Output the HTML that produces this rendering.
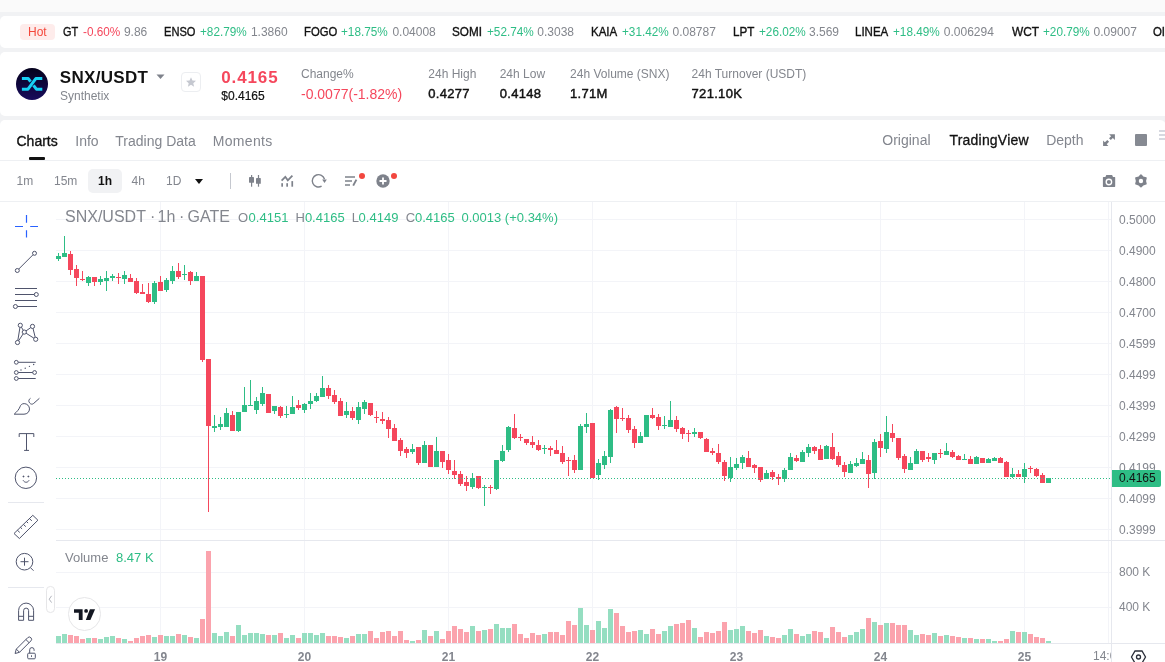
<!DOCTYPE html>
<html><head><meta charset="utf-8"><title>SNX/USDT</title>
<style>
*{margin:0;padding:0;box-sizing:border-box}
html,body{width:1165px;height:662px;overflow:hidden;background:#f1f2f4;font-family:"Liberation Sans",Arial,sans-serif}
.a{position:absolute;white-space:nowrap}
.card{position:absolute;left:0;width:1166px;background:#fff;border-radius:5px}
svg{position:absolute;overflow:visible}
</style></head><body>
<div class="a" style="left:0;top:0;width:1165px;height:12px;background:#fafafa"></div>
<div class="card" style="top:16px;height:32px;width:1200px"></div>
<div class="card" style="top:52px;height:64px;width:1200px"></div>
<div class="card" style="top:120px;height:560px;width:1166px;border-radius:5px 6px 0 0"></div>

<div class="a" style="left:20px;top:24px;width:35px;height:16px;background:#feeceb;border-radius:4px"></div>
<div class="a" style="left:28.0px;top:25.84px;font-size:12px;line-height:12px;color:#f4483c;">Hot</div>
<div class="a" style="left:62.8px;top:25.84px;font-size:12px;line-height:12px;color:#121212;-webkit-text-stroke:0.35px #121212;transform:scaleX(0.91);transform-origin:0 0;">GT</div>
<div class="a" style="left:82.5px;top:25.84px;font-size:12px;line-height:12px;color:#f5475c;transform:scaleX(0.98);transform-origin:0 0;">-0.60%</div>
<div class="a" style="left:123.9px;top:25.84px;font-size:12px;line-height:12px;color:#83868d;">9.86</div>
<div class="a" style="left:163.8px;top:25.84px;font-size:12px;line-height:12px;color:#121212;-webkit-text-stroke:0.35px #121212;transform:scaleX(0.925);transform-origin:0 0;">ENSO</div>
<div class="a" style="left:199.7px;top:25.84px;font-size:12px;line-height:12px;color:#2ebd85;transform:scaleX(0.98);transform-origin:0 0;">+82.79%</div>
<div class="a" style="left:250.9px;top:25.84px;font-size:12px;line-height:12px;color:#83868d;">1.3860</div>
<div class="a" style="left:303.8px;top:25.84px;font-size:12px;line-height:12px;color:#121212;-webkit-text-stroke:0.35px #121212;transform:scaleX(0.94);transform-origin:0 0;">FOGO</div>
<div class="a" style="left:341.4px;top:25.84px;font-size:12px;line-height:12px;color:#2ebd85;transform:scaleX(0.98);transform-origin:0 0;">+18.75%</div>
<div class="a" style="left:392.4px;top:25.84px;font-size:12px;line-height:12px;color:#83868d;">0.04008</div>
<div class="a" style="left:452.2px;top:25.84px;font-size:12px;line-height:12px;color:#121212;-webkit-text-stroke:0.35px #121212;transform:scaleX(0.975);transform-origin:0 0;">SOMI</div>
<div class="a" style="left:486.9px;top:25.84px;font-size:12px;line-height:12px;color:#2ebd85;transform:scaleX(0.98);transform-origin:0 0;">+52.74%</div>
<div class="a" style="left:537.3px;top:25.84px;font-size:12px;line-height:12px;color:#83868d;">0.3038</div>
<div class="a" style="left:590.5px;top:25.84px;font-size:12px;line-height:12px;color:#121212;-webkit-text-stroke:0.35px #121212;transform:scaleX(0.96);transform-origin:0 0;">KAIA</div>
<div class="a" style="left:622.2px;top:25.84px;font-size:12px;line-height:12px;color:#2ebd85;transform:scaleX(0.98);transform-origin:0 0;">+31.42%</div>
<div class="a" style="left:672.5px;top:25.84px;font-size:12px;line-height:12px;color:#83868d;">0.08787</div>
<div class="a" style="left:732.5px;top:25.84px;font-size:12px;line-height:12px;color:#121212;-webkit-text-stroke:0.35px #121212;transform:scaleX(0.97);transform-origin:0 0;">LPT</div>
<div class="a" style="left:758.6px;top:25.84px;font-size:12px;line-height:12px;color:#2ebd85;transform:scaleX(0.98);transform-origin:0 0;">+26.02%</div>
<div class="a" style="left:809.0px;top:25.84px;font-size:12px;line-height:12px;color:#83868d;">3.569</div>
<div class="a" style="left:854.8px;top:25.84px;font-size:12px;line-height:12px;color:#121212;-webkit-text-stroke:0.35px #121212;transform:scaleX(0.96);transform-origin:0 0;">LINEA</div>
<div class="a" style="left:892.8px;top:25.84px;font-size:12px;line-height:12px;color:#2ebd85;transform:scaleX(0.98);transform-origin:0 0;">+18.49%</div>
<div class="a" style="left:943.8px;top:25.84px;font-size:12px;line-height:12px;color:#83868d;">0.006294</div>
<div class="a" style="left:1011.6px;top:25.84px;font-size:12px;line-height:12px;color:#121212;-webkit-text-stroke:0.35px #121212;transform:scaleX(0.99);transform-origin:0 0;">WCT</div>
<div class="a" style="left:1043.3px;top:25.84px;font-size:12px;line-height:12px;color:#2ebd85;transform:scaleX(0.98);transform-origin:0 0;">+20.79%</div>
<div class="a" style="left:1093.6px;top:25.84px;font-size:12px;line-height:12px;color:#83868d;">0.09007</div>
<div class="a" style="left:1153.2px;top:25.84px;font-size:12px;line-height:12px;color:#121212;-webkit-text-stroke:0.35px #121212;transform:scaleX(0.95);transform-origin:0 0;">OI</div>
<svg style="left:16px;top:68px" width="32" height="32" viewBox="0 0 32 32">
<defs><linearGradient id="lg" x1="0" y1="0" x2="0" y2="1"><stop offset="0" stop-color="#04011c"/><stop offset="1" stop-color="#180c5c"/></linearGradient></defs>
<circle cx="16" cy="16" r="16" fill="url(#lg)"/>
<path d="M5.9 10.6H12.3L14.6 13.7M5.9 21.2H12L19.8 10.6H26.3M17.5 17.4L20.4 21.2H26.3" fill="none" stroke="#17d1f5" stroke-width="3" stroke-linejoin="round"/>
</svg>
<div class="a" style="left:59.8px;top:68.61px;font-size:17px;line-height:17px;color:#121212;font-weight:700;letter-spacing:0.3px;">SNX/USDT</div>
<svg style="left:156px;top:74px" width="10" height="6"><path d="M0.5 0.5h8l-4 4.5z" fill="#7e828b"/></svg>
<div class="a" style="left:60.0px;top:89.84px;font-size:12px;line-height:12px;color:#83868d;">Synthetix</div>
<div class="a" style="left:181px;top:72px;width:20px;height:20px;border:1px solid #eceef1;border-radius:4px"></div>
<svg style="left:185px;top:76px" width="12" height="12" viewBox="0 0 24 24"><path d="M12 2.5l2.9 6.6 7.1.6-5.4 4.7 1.6 7-6.2-3.7-6.2 3.7 1.6-7L2 9.7l7.1-.6z" fill="#c5c8d0"/></svg>
<div class="a" style="left:221.2px;top:68.91px;font-size:17px;line-height:17px;color:#f5475c;font-weight:700;letter-spacing:0.9px;">0.4165</div>
<div class="a" style="left:221.3px;top:89.94px;font-size:12px;line-height:12px;color:#121212;-webkit-text-stroke:0.2px #121212;">$0.4165</div>
<div class="a" style="left:301.0px;top:68.04px;font-size:12px;line-height:12px;color:#83868d;">Change%</div>
<div class="a" style="left:301.0px;top:86.75px;font-size:14px;line-height:14px;color:#f5475c;">-0.0077(-1.82%)</div>
<div class="a" style="left:428.3px;top:68.04px;font-size:12px;line-height:12px;color:#83868d;">24h High</div>
<div class="a" style="left:428.3px;top:86.80px;font-size:13px;line-height:13px;color:#121212;-webkit-text-stroke:0.45px #121212;letter-spacing:0.3px;">0.4277</div>
<div class="a" style="left:499.7px;top:68.04px;font-size:12px;line-height:12px;color:#83868d;">24h Low</div>
<div class="a" style="left:499.7px;top:86.80px;font-size:13px;line-height:13px;color:#121212;-webkit-text-stroke:0.45px #121212;letter-spacing:0.3px;">0.4148</div>
<div class="a" style="left:570.1px;top:68.04px;font-size:12px;line-height:12px;color:#83868d;">24h Volume (SNX)</div>
<div class="a" style="left:570.1px;top:86.80px;font-size:13px;line-height:13px;color:#121212;-webkit-text-stroke:0.45px #121212;letter-spacing:0.3px;">1.71M</div>
<div class="a" style="left:691.6px;top:68.04px;font-size:12px;line-height:12px;color:#83868d;">24h Turnover (USDT)</div>
<div class="a" style="left:691.6px;top:86.80px;font-size:13px;line-height:13px;color:#121212;-webkit-text-stroke:0.45px #121212;letter-spacing:0.3px;">721.10K</div>
<div class="a" style="left:16.5px;top:133.95px;font-size:14px;line-height:14px;color:#121212;-webkit-text-stroke:0.35px #121212;">Charts</div>
<div class="a" style="left:75.3px;top:133.95px;font-size:14px;line-height:14px;color:#83868e;">Info</div>
<div class="a" style="left:115.3px;top:133.95px;font-size:14px;line-height:14px;color:#83868e;">Trading Data</div>
<div class="a" style="left:212.8px;top:133.95px;font-size:14px;line-height:14px;color:#83868e;letter-spacing:0.3px;">Moments</div>
<div class="a" style="left:29px;top:157px;width:16px;height:3px;background:#121212;border-radius:1px"></div>
<div class="a" style="left:882.3px;top:133.25px;font-size:14px;line-height:14px;color:#83868e;">Original</div>
<div class="a" style="left:949.5px;top:133.25px;font-size:14px;line-height:14px;color:#121212;-webkit-text-stroke:0.3px #121212;letter-spacing:0.2px;">TradingView</div>
<div class="a" style="left:1046.2px;top:133.25px;font-size:14px;line-height:14px;color:#83868e;">Depth</div>
<svg style="left:1098px;top:128px" width="24" height="24" viewBox="0 0 24 24">
<path d="M11.1 6.2H16.9V12zM5.1 12.6V17.9H10.4z" fill="#7e828b"/>
<path d="M15 8.1L11.9 11.2M7 16L10.2 12.8" stroke="#7e828b" stroke-width="2.5"/>
</svg>
<div class="a" style="left:1135px;top:134px;width:12px;height:12px;background:#868a92;border-radius:1px"></div>
<svg style="left:1159px;top:129px" width="10" height="12"><path d="M0 2h10M0 6h10M0 10h10" stroke="#c9ccd6" stroke-width="1.6"/></svg>
<div class="a" style="left:0;top:160px;width:1165px;height:1px;background:#eef0f3"></div>
<div class="a" style="left:88px;top:169px;width:34px;height:24px;background:#f1f2f4;border-radius:5px"></div>
<div class="a" style="left:16.5px;top:175.04px;font-size:12px;line-height:12px;color:#83868e;">1m</div>
<div class="a" style="left:54.0px;top:175.04px;font-size:12px;line-height:12px;color:#83868e;">15m</div>
<div class="a" style="left:98.0px;top:175.04px;font-size:12px;line-height:12px;color:#121212;font-weight:700;">1h</div>
<div class="a" style="left:131.5px;top:175.04px;font-size:12px;line-height:12px;color:#83868e;">4h</div>
<div class="a" style="left:166.0px;top:175.04px;font-size:12px;line-height:12px;color:#83868e;">1D</div>
<svg style="left:195px;top:179px" width="8" height="5"><path d="M0 0h8l-4 5z" fill="#121212"/></svg>
<div class="a" style="left:230px;top:173px;width:1px;height:16px;background:#c5c8cf"></div>
<svg style="left:244px;top:172px" width="20" height="18" viewBox="0 0 20 18" fill="#7e828b">
<rect x="7" y="3" width="1.2" height="11.7"/><rect x="5" y="5" width="5" height="5.7" rx="0.4"/>
<rect x="13.9" y="3" width="1.2" height="11.7"/><rect x="12" y="6" width="4.8" height="5.8" rx="0.4"/>
</svg>
<svg style="left:278px;top:172px" width="18" height="18" viewBox="0 0 18 18">
<path d="M3.6 8.6L7.3 4.8 9.8 8.3 14.4 3.7" fill="none" stroke="#7e828b" stroke-width="1.8"/>
<rect x="3.3" y="11.2" width="1.7" height="3.5" fill="#7e828b"/><rect x="8.3" y="11.2" width="1.7" height="3.5" fill="#7e828b"/><rect x="13.4" y="9.1" width="1.7" height="5.6" fill="#7e828b"/>
</svg>
<svg style="left:310px;top:170px" width="20" height="20" viewBox="0 0 20 20">
<path d="M11.6 16.2A6.2 6.2 0 1 1 14.5 9.2" fill="none" stroke="#7e828b" stroke-width="1.4"/>
<path d="M12.2 9.4h4.6L14.5 13z" fill="#7e828b"/>
</svg>
<svg style="left:344px;top:175.4px" width="14" height="12" viewBox="0 0 14 12">
<path d="M1 2h10M1 6h7M1 10h5" stroke="#7e828b" stroke-width="1.6"/>
<path d="M9.2 10.6l3.2-6" stroke="#7e828b" stroke-width="1.9"/>
</svg>
<div class="a" style="left:359px;top:172.5px;width:6px;height:6px;border-radius:50%;background:#f2473f"></div>
<svg style="left:376px;top:173.8px" width="14" height="14" viewBox="0 0 14 14">
<circle cx="7" cy="7" r="6.7" fill="#7e828b"/><path d="M7 3.5v7M3.5 7h7" stroke="#fff" stroke-width="1.8"/>
</svg>
<div class="a" style="left:391px;top:173px;width:6px;height:6px;border-radius:50%;background:#f2473f"></div>
<svg style="left:1102px;top:174px" width="14" height="14" viewBox="0 0 14 14">
<path d="M4.3 1.1h5.8l.9 1.8h1.6c.4 0 .6.2.6.6v8.8c0 .4-.2.6-.6.6H1.5c-.4 0-.6-.2-.6-.6V3.5c0-.4.2-.6.6-.6h1.9z" fill="#7e828b"/>
<circle cx="6.9" cy="8" r="3.4" fill="#fff"/><circle cx="6.9" cy="8" r="2.05" fill="#7e828b"/>
</svg>
<svg style="left:1134px;top:174px" width="14" height="14" viewBox="0 0 14 14">
<path d="M6.95 1.15 L9.10 3.23 L11.97 4.05 L11.25 6.95 L11.97 9.85 L9.10 10.67 L6.95 12.75 L4.80 10.67 L1.93 9.85 L2.65 6.95 L1.93 4.05 L4.80 3.23Z" fill="#7e828b" stroke="#7e828b" stroke-width="1.6" stroke-linejoin="round"/>
<circle cx="6.95" cy="6.95" r="2.2" fill="#fff"/>
</svg>
<div class="a" style="left:0;top:201px;width:1165px;height:1px;background:#eef0f3"></div>
<svg style="left:0;top:0" width="1165" height="662" shape-rendering="crispEdges">
<rect x="56" y="219" width="1055" height="1" fill="#f3f4f8"/>
<rect x="56" y="250" width="1055" height="1" fill="#f3f4f8"/>
<rect x="56" y="281" width="1055" height="1" fill="#f3f4f8"/>
<rect x="56" y="312" width="1055" height="1" fill="#f3f4f8"/>
<rect x="56" y="343" width="1055" height="1" fill="#f3f4f8"/>
<rect x="56" y="374" width="1055" height="1" fill="#f3f4f8"/>
<rect x="56" y="405" width="1055" height="1" fill="#f3f4f8"/>
<rect x="56" y="436" width="1055" height="1" fill="#f3f4f8"/>
<rect x="56" y="467" width="1055" height="1" fill="#f3f4f8"/>
<rect x="56" y="498" width="1055" height="1" fill="#f3f4f8"/>
<rect x="56" y="529" width="1055" height="1" fill="#f3f4f8"/>
<rect x="56" y="572" width="1055" height="1" fill="#f3f4f8"/>
<rect x="56" y="607" width="1055" height="1" fill="#f3f4f8"/>
<rect x="160" y="202" width="1" height="441" fill="#f3f4f8"/>
<rect x="304" y="202" width="1" height="441" fill="#f3f4f8"/>
<rect x="448" y="202" width="1" height="441" fill="#f3f4f8"/>
<rect x="592" y="202" width="1" height="441" fill="#f3f4f8"/>
<rect x="736" y="202" width="1" height="441" fill="#f3f4f8"/>
<rect x="880" y="202" width="1" height="441" fill="#f3f4f8"/>
<rect x="1024" y="202" width="1" height="441" fill="#f3f4f8"/>
<rect x="1108" y="202" width="1" height="441" fill="#f3f4f8"/>
<rect x="56" y="540" width="1109" height="1" fill="#e6e8ee"/>
<rect x="1111" y="202" width="1" height="460" fill="#e6e8ee"/>
<rect x="56" y="643" width="1109" height="1" fill="#e6e8ee"/>
<rect x="56" y="636" width="5" height="7" fill="#95dec1"/>
<rect x="62" y="634" width="5" height="9" fill="#95dec1"/>
<rect x="68" y="635" width="5" height="8" fill="#fba3ad"/>
<rect x="74" y="636" width="5" height="7" fill="#fba3ad"/>
<rect x="80" y="639" width="5" height="4" fill="#fba3ad"/>
<rect x="86" y="638" width="5" height="5" fill="#95dec1"/>
<rect x="92" y="638" width="5" height="5" fill="#fba3ad"/>
<rect x="98" y="639" width="5" height="4" fill="#95dec1"/>
<rect x="104" y="637" width="5" height="6" fill="#95dec1"/>
<rect x="110" y="636" width="5" height="7" fill="#95dec1"/>
<rect x="116" y="638" width="5" height="5" fill="#fba3ad"/>
<rect x="122" y="639" width="5" height="4" fill="#95dec1"/>
<rect x="128" y="641" width="5" height="2" fill="#fba3ad"/>
<rect x="134" y="638" width="5" height="5" fill="#fba3ad"/>
<rect x="140" y="636" width="5" height="7" fill="#fba3ad"/>
<rect x="146" y="635" width="5" height="8" fill="#fba3ad"/>
<rect x="152" y="637" width="5" height="6" fill="#95dec1"/>
<rect x="158" y="635" width="5" height="8" fill="#fba3ad"/>
<rect x="164" y="636" width="5" height="7" fill="#95dec1"/>
<rect x="170" y="636" width="5" height="7" fill="#95dec1"/>
<rect x="176" y="634" width="5" height="9" fill="#fba3ad"/>
<rect x="182" y="635" width="5" height="8" fill="#95dec1"/>
<rect x="188" y="637" width="5" height="6" fill="#fba3ad"/>
<rect x="194" y="638" width="5" height="5" fill="#95dec1"/>
<rect x="200" y="619" width="5" height="24" fill="#fba3ad"/>
<rect x="206" y="551" width="5" height="92" fill="#fba3ad"/>
<rect x="212" y="633" width="5" height="10" fill="#95dec1"/>
<rect x="218" y="636" width="5" height="7" fill="#95dec1"/>
<rect x="224" y="632" width="5" height="11" fill="#95dec1"/>
<rect x="230" y="636" width="5" height="7" fill="#fba3ad"/>
<rect x="236" y="625" width="5" height="18" fill="#95dec1"/>
<rect x="242" y="635" width="5" height="8" fill="#95dec1"/>
<rect x="248" y="633" width="5" height="10" fill="#95dec1"/>
<rect x="254" y="633" width="5" height="10" fill="#95dec1"/>
<rect x="260" y="634" width="5" height="9" fill="#95dec1"/>
<rect x="266" y="635" width="5" height="8" fill="#fba3ad"/>
<rect x="272" y="635" width="5" height="8" fill="#95dec1"/>
<rect x="278" y="633" width="5" height="10" fill="#fba3ad"/>
<rect x="284" y="638" width="5" height="5" fill="#95dec1"/>
<rect x="290" y="635" width="5" height="8" fill="#95dec1"/>
<rect x="296" y="638" width="5" height="5" fill="#fba3ad"/>
<rect x="302" y="633" width="5" height="10" fill="#95dec1"/>
<rect x="308" y="633" width="5" height="10" fill="#95dec1"/>
<rect x="314" y="635" width="5" height="8" fill="#95dec1"/>
<rect x="320" y="633" width="5" height="10" fill="#95dec1"/>
<rect x="326" y="636" width="5" height="7" fill="#fba3ad"/>
<rect x="332" y="636" width="5" height="7" fill="#fba3ad"/>
<rect x="338" y="637" width="5" height="6" fill="#fba3ad"/>
<rect x="344" y="638" width="5" height="5" fill="#95dec1"/>
<rect x="350" y="636" width="5" height="7" fill="#fba3ad"/>
<rect x="356" y="634" width="5" height="9" fill="#95dec1"/>
<rect x="362" y="634" width="5" height="9" fill="#95dec1"/>
<rect x="368" y="631" width="5" height="12" fill="#fba3ad"/>
<rect x="374" y="638" width="5" height="5" fill="#fba3ad"/>
<rect x="380" y="632" width="5" height="11" fill="#fba3ad"/>
<rect x="386" y="631" width="5" height="12" fill="#fba3ad"/>
<rect x="392" y="636" width="5" height="7" fill="#fba3ad"/>
<rect x="398" y="631" width="5" height="12" fill="#fba3ad"/>
<rect x="404" y="640" width="5" height="3" fill="#fba3ad"/>
<rect x="410" y="641" width="5" height="2" fill="#95dec1"/>
<rect x="416" y="640" width="5" height="3" fill="#fba3ad"/>
<rect x="422" y="630" width="5" height="13" fill="#95dec1"/>
<rect x="428" y="636" width="5" height="7" fill="#fba3ad"/>
<rect x="434" y="631" width="5" height="12" fill="#95dec1"/>
<rect x="440" y="639" width="5" height="4" fill="#fba3ad"/>
<rect x="446" y="631" width="5" height="12" fill="#fba3ad"/>
<rect x="452" y="626" width="5" height="17" fill="#fba3ad"/>
<rect x="458" y="629" width="5" height="14" fill="#fba3ad"/>
<rect x="464" y="632" width="5" height="11" fill="#fba3ad"/>
<rect x="470" y="626" width="5" height="17" fill="#95dec1"/>
<rect x="476" y="631" width="5" height="12" fill="#fba3ad"/>
<rect x="482" y="630" width="5" height="13" fill="#95dec1"/>
<rect x="488" y="629" width="5" height="14" fill="#fba3ad"/>
<rect x="494" y="624" width="5" height="19" fill="#95dec1"/>
<rect x="500" y="628" width="5" height="15" fill="#95dec1"/>
<rect x="506" y="628" width="5" height="15" fill="#95dec1"/>
<rect x="512" y="624" width="5" height="19" fill="#fba3ad"/>
<rect x="518" y="634" width="5" height="9" fill="#fba3ad"/>
<rect x="524" y="638" width="5" height="5" fill="#fba3ad"/>
<rect x="530" y="633" width="5" height="10" fill="#fba3ad"/>
<rect x="536" y="635" width="5" height="8" fill="#fba3ad"/>
<rect x="542" y="634" width="5" height="9" fill="#95dec1"/>
<rect x="548" y="632" width="5" height="11" fill="#fba3ad"/>
<rect x="554" y="632" width="5" height="11" fill="#fba3ad"/>
<rect x="560" y="635" width="5" height="8" fill="#fba3ad"/>
<rect x="566" y="621" width="5" height="22" fill="#fba3ad"/>
<rect x="572" y="625" width="5" height="18" fill="#fba3ad"/>
<rect x="578" y="608" width="5" height="35" fill="#95dec1"/>
<rect x="584" y="625" width="5" height="18" fill="#95dec1"/>
<rect x="590" y="630" width="5" height="13" fill="#fba3ad"/>
<rect x="596" y="621" width="5" height="22" fill="#95dec1"/>
<rect x="602" y="628" width="5" height="15" fill="#95dec1"/>
<rect x="608" y="609" width="5" height="34" fill="#95dec1"/>
<rect x="614" y="613" width="5" height="30" fill="#fba3ad"/>
<rect x="620" y="626" width="5" height="17" fill="#fba3ad"/>
<rect x="626" y="632" width="5" height="11" fill="#fba3ad"/>
<rect x="632" y="631" width="5" height="12" fill="#fba3ad"/>
<rect x="638" y="630" width="5" height="13" fill="#95dec1"/>
<rect x="644" y="634" width="5" height="9" fill="#95dec1"/>
<rect x="650" y="629" width="5" height="14" fill="#fba3ad"/>
<rect x="656" y="634" width="5" height="9" fill="#fba3ad"/>
<rect x="662" y="631" width="5" height="12" fill="#95dec1"/>
<rect x="668" y="626" width="5" height="17" fill="#95dec1"/>
<rect x="674" y="624" width="5" height="19" fill="#fba3ad"/>
<rect x="680" y="623" width="5" height="20" fill="#fba3ad"/>
<rect x="686" y="620" width="5" height="23" fill="#fba3ad"/>
<rect x="692" y="628" width="5" height="15" fill="#95dec1"/>
<rect x="698" y="637" width="5" height="6" fill="#fba3ad"/>
<rect x="704" y="632" width="5" height="11" fill="#fba3ad"/>
<rect x="710" y="633" width="5" height="10" fill="#fba3ad"/>
<rect x="716" y="631" width="5" height="12" fill="#fba3ad"/>
<rect x="722" y="622" width="5" height="21" fill="#fba3ad"/>
<rect x="728" y="630" width="5" height="13" fill="#95dec1"/>
<rect x="734" y="629" width="5" height="14" fill="#95dec1"/>
<rect x="740" y="626" width="5" height="17" fill="#95dec1"/>
<rect x="746" y="631" width="5" height="12" fill="#fba3ad"/>
<rect x="752" y="633" width="5" height="10" fill="#fba3ad"/>
<rect x="758" y="630" width="5" height="13" fill="#fba3ad"/>
<rect x="764" y="636" width="5" height="7" fill="#95dec1"/>
<rect x="770" y="637" width="5" height="6" fill="#fba3ad"/>
<rect x="776" y="638" width="5" height="5" fill="#fba3ad"/>
<rect x="782" y="635" width="5" height="8" fill="#95dec1"/>
<rect x="788" y="629" width="5" height="14" fill="#95dec1"/>
<rect x="794" y="634" width="5" height="9" fill="#fba3ad"/>
<rect x="800" y="636" width="5" height="7" fill="#95dec1"/>
<rect x="806" y="634" width="5" height="9" fill="#95dec1"/>
<rect x="812" y="631" width="5" height="12" fill="#fba3ad"/>
<rect x="818" y="632" width="5" height="11" fill="#fba3ad"/>
<rect x="824" y="638" width="5" height="5" fill="#95dec1"/>
<rect x="830" y="627" width="5" height="16" fill="#fba3ad"/>
<rect x="836" y="632" width="5" height="11" fill="#fba3ad"/>
<rect x="842" y="637" width="5" height="6" fill="#fba3ad"/>
<rect x="848" y="635" width="5" height="8" fill="#95dec1"/>
<rect x="854" y="632" width="5" height="11" fill="#95dec1"/>
<rect x="860" y="629" width="5" height="14" fill="#95dec1"/>
<rect x="866" y="618" width="5" height="25" fill="#fba3ad"/>
<rect x="872" y="622" width="5" height="21" fill="#95dec1"/>
<rect x="878" y="625" width="5" height="18" fill="#fba3ad"/>
<rect x="884" y="623" width="5" height="20" fill="#95dec1"/>
<rect x="890" y="623" width="5" height="20" fill="#fba3ad"/>
<rect x="896" y="625" width="5" height="18" fill="#fba3ad"/>
<rect x="902" y="625" width="5" height="18" fill="#fba3ad"/>
<rect x="908" y="630" width="5" height="13" fill="#95dec1"/>
<rect x="914" y="635" width="5" height="8" fill="#95dec1"/>
<rect x="920" y="634" width="5" height="9" fill="#fba3ad"/>
<rect x="926" y="635" width="5" height="8" fill="#fba3ad"/>
<rect x="932" y="633" width="5" height="10" fill="#95dec1"/>
<rect x="938" y="636" width="5" height="7" fill="#fba3ad"/>
<rect x="944" y="635" width="5" height="8" fill="#95dec1"/>
<rect x="950" y="636" width="5" height="7" fill="#fba3ad"/>
<rect x="956" y="637" width="5" height="6" fill="#fba3ad"/>
<rect x="962" y="638" width="5" height="5" fill="#95dec1"/>
<rect x="968" y="638" width="5" height="5" fill="#fba3ad"/>
<rect x="974" y="639" width="5" height="4" fill="#95dec1"/>
<rect x="980" y="639" width="5" height="4" fill="#fba3ad"/>
<rect x="986" y="639" width="5" height="4" fill="#95dec1"/>
<rect x="992" y="641" width="5" height="2" fill="#95dec1"/>
<rect x="998" y="641" width="5" height="2" fill="#fba3ad"/>
<rect x="1004" y="639" width="5" height="4" fill="#fba3ad"/>
<rect x="1010" y="631" width="5" height="12" fill="#95dec1"/>
<rect x="1016" y="632" width="5" height="11" fill="#fba3ad"/>
<rect x="1022" y="632" width="5" height="11" fill="#95dec1"/>
<rect x="1028" y="634" width="5" height="9" fill="#fba3ad"/>
<rect x="1034" y="637" width="5" height="6" fill="#fba3ad"/>
<rect x="1040" y="638" width="5" height="5" fill="#fba3ad"/>
<rect x="1046" y="641" width="5" height="2" fill="#95dec1"/>
<rect x="58" y="253" width="1" height="8" fill="#2ebd85"/>
<rect x="56" y="256" width="5" height="3" fill="#2ebd85"/>
<rect x="64" y="236" width="1" height="21" fill="#2ebd85"/>
<rect x="62" y="253" width="5" height="4" fill="#2ebd85"/>
<rect x="70" y="251" width="1" height="24" fill="#f5475c"/>
<rect x="68" y="254" width="5" height="16" fill="#f5475c"/>
<rect x="76" y="265" width="1" height="21" fill="#f5475c"/>
<rect x="74" y="269" width="5" height="9" fill="#f5475c"/>
<rect x="82" y="271" width="1" height="10" fill="#f5475c"/>
<rect x="80" y="279" width="5" height="1" fill="#f5475c"/>
<rect x="88" y="276" width="1" height="10" fill="#2ebd85"/>
<rect x="86" y="277" width="5" height="6" fill="#2ebd85"/>
<rect x="94" y="277" width="1" height="9" fill="#f5475c"/>
<rect x="92" y="277" width="5" height="5" fill="#f5475c"/>
<rect x="100" y="276" width="1" height="9" fill="#2ebd85"/>
<rect x="98" y="279" width="5" height="3" fill="#2ebd85"/>
<rect x="106" y="271" width="1" height="20" fill="#2ebd85"/>
<rect x="104" y="278" width="5" height="3" fill="#2ebd85"/>
<rect x="112" y="274" width="1" height="7" fill="#2ebd85"/>
<rect x="110" y="276" width="5" height="2" fill="#2ebd85"/>
<rect x="118" y="273" width="1" height="11" fill="#f5475c"/>
<rect x="116" y="277" width="5" height="1" fill="#f5475c"/>
<rect x="124" y="271" width="1" height="13" fill="#2ebd85"/>
<rect x="122" y="275" width="5" height="4" fill="#2ebd85"/>
<rect x="130" y="274" width="1" height="8" fill="#f5475c"/>
<rect x="128" y="278" width="5" height="4" fill="#f5475c"/>
<rect x="136" y="278" width="1" height="16" fill="#f5475c"/>
<rect x="134" y="281" width="5" height="12" fill="#f5475c"/>
<rect x="142" y="284" width="1" height="10" fill="#f5475c"/>
<rect x="140" y="292" width="5" height="2" fill="#f5475c"/>
<rect x="148" y="283" width="1" height="20" fill="#f5475c"/>
<rect x="146" y="294" width="5" height="8" fill="#f5475c"/>
<rect x="154" y="281" width="1" height="23" fill="#2ebd85"/>
<rect x="152" y="283" width="5" height="19" fill="#2ebd85"/>
<rect x="160" y="276" width="1" height="15" fill="#f5475c"/>
<rect x="158" y="282" width="5" height="9" fill="#f5475c"/>
<rect x="166" y="278" width="1" height="14" fill="#2ebd85"/>
<rect x="164" y="280" width="5" height="10" fill="#2ebd85"/>
<rect x="172" y="266" width="1" height="18" fill="#2ebd85"/>
<rect x="170" y="271" width="5" height="10" fill="#2ebd85"/>
<rect x="178" y="263" width="1" height="16" fill="#f5475c"/>
<rect x="176" y="271" width="5" height="6" fill="#f5475c"/>
<rect x="184" y="265" width="1" height="15" fill="#2ebd85"/>
<rect x="182" y="274" width="5" height="1" fill="#2ebd85"/>
<rect x="190" y="271" width="1" height="14" fill="#f5475c"/>
<rect x="188" y="272" width="5" height="9" fill="#f5475c"/>
<rect x="196" y="272" width="1" height="9" fill="#2ebd85"/>
<rect x="194" y="276" width="5" height="5" fill="#2ebd85"/>
<rect x="202" y="276" width="1" height="86" fill="#f5475c"/>
<rect x="200" y="276" width="5" height="84" fill="#f5475c"/>
<rect x="208" y="359" width="1" height="153" fill="#f5475c"/>
<rect x="206" y="359" width="5" height="67" fill="#f5475c"/>
<rect x="214" y="415" width="1" height="17" fill="#2ebd85"/>
<rect x="212" y="426" width="5" height="2" fill="#2ebd85"/>
<rect x="220" y="417" width="1" height="13" fill="#2ebd85"/>
<rect x="218" y="424" width="5" height="3" fill="#2ebd85"/>
<rect x="226" y="408" width="1" height="19" fill="#2ebd85"/>
<rect x="224" y="413" width="5" height="14" fill="#2ebd85"/>
<rect x="232" y="411" width="1" height="20" fill="#f5475c"/>
<rect x="230" y="415" width="5" height="16" fill="#f5475c"/>
<rect x="238" y="412" width="1" height="20" fill="#2ebd85"/>
<rect x="236" y="412" width="5" height="19" fill="#2ebd85"/>
<rect x="244" y="387" width="1" height="25" fill="#2ebd85"/>
<rect x="242" y="405" width="5" height="7" fill="#2ebd85"/>
<rect x="250" y="380" width="1" height="26" fill="#2ebd85"/>
<rect x="248" y="405" width="5" height="1" fill="#2ebd85"/>
<rect x="256" y="397" width="1" height="17" fill="#2ebd85"/>
<rect x="254" y="401" width="5" height="9" fill="#2ebd85"/>
<rect x="262" y="387" width="1" height="19" fill="#2ebd85"/>
<rect x="260" y="393" width="5" height="11" fill="#2ebd85"/>
<rect x="266" y="394" width="5" height="19" fill="#f5475c"/>
<rect x="274" y="406" width="1" height="8" fill="#2ebd85"/>
<rect x="272" y="406" width="5" height="5" fill="#2ebd85"/>
<rect x="280" y="406" width="1" height="12" fill="#f5475c"/>
<rect x="278" y="407" width="5" height="9" fill="#f5475c"/>
<rect x="286" y="406" width="1" height="12" fill="#2ebd85"/>
<rect x="284" y="414" width="5" height="1" fill="#2ebd85"/>
<rect x="292" y="396" width="1" height="18" fill="#2ebd85"/>
<rect x="290" y="407" width="5" height="7" fill="#2ebd85"/>
<rect x="298" y="400" width="1" height="10" fill="#f5475c"/>
<rect x="296" y="405" width="5" height="3" fill="#f5475c"/>
<rect x="304" y="403" width="1" height="10" fill="#2ebd85"/>
<rect x="302" y="404" width="5" height="6" fill="#2ebd85"/>
<rect x="310" y="393" width="1" height="16" fill="#2ebd85"/>
<rect x="308" y="401" width="5" height="3" fill="#2ebd85"/>
<rect x="316" y="393" width="1" height="9" fill="#2ebd85"/>
<rect x="314" y="396" width="5" height="5" fill="#2ebd85"/>
<rect x="322" y="376" width="1" height="21" fill="#2ebd85"/>
<rect x="320" y="388" width="5" height="9" fill="#2ebd85"/>
<rect x="328" y="385" width="1" height="14" fill="#f5475c"/>
<rect x="326" y="388" width="5" height="8" fill="#f5475c"/>
<rect x="334" y="390" width="1" height="14" fill="#f5475c"/>
<rect x="332" y="395" width="5" height="7" fill="#f5475c"/>
<rect x="340" y="398" width="1" height="18" fill="#f5475c"/>
<rect x="338" y="401" width="5" height="15" fill="#f5475c"/>
<rect x="346" y="402" width="1" height="16" fill="#2ebd85"/>
<rect x="344" y="411" width="5" height="4" fill="#2ebd85"/>
<rect x="352" y="407" width="1" height="13" fill="#f5475c"/>
<rect x="350" y="411" width="5" height="7" fill="#f5475c"/>
<rect x="358" y="402" width="1" height="22" fill="#2ebd85"/>
<rect x="356" y="407" width="5" height="13" fill="#2ebd85"/>
<rect x="364" y="400" width="1" height="14" fill="#2ebd85"/>
<rect x="362" y="402" width="5" height="7" fill="#2ebd85"/>
<rect x="370" y="403" width="1" height="13" fill="#f5475c"/>
<rect x="368" y="403" width="5" height="12" fill="#f5475c"/>
<rect x="376" y="411" width="1" height="12" fill="#f5475c"/>
<rect x="374" y="417" width="5" height="1" fill="#f5475c"/>
<rect x="382" y="412" width="1" height="12" fill="#f5475c"/>
<rect x="380" y="419" width="5" height="2" fill="#f5475c"/>
<rect x="388" y="417" width="1" height="21" fill="#f5475c"/>
<rect x="386" y="420" width="5" height="9" fill="#f5475c"/>
<rect x="394" y="424" width="1" height="17" fill="#f5475c"/>
<rect x="392" y="428" width="5" height="13" fill="#f5475c"/>
<rect x="400" y="438" width="1" height="18" fill="#f5475c"/>
<rect x="398" y="440" width="5" height="11" fill="#f5475c"/>
<rect x="406" y="447" width="1" height="11" fill="#f5475c"/>
<rect x="404" y="449" width="5" height="4" fill="#f5475c"/>
<rect x="412" y="444" width="1" height="10" fill="#2ebd85"/>
<rect x="410" y="449" width="5" height="3" fill="#2ebd85"/>
<rect x="418" y="447" width="1" height="18" fill="#f5475c"/>
<rect x="416" y="447" width="5" height="16" fill="#f5475c"/>
<rect x="424" y="441" width="1" height="22" fill="#2ebd85"/>
<rect x="422" y="445" width="5" height="18" fill="#2ebd85"/>
<rect x="428" y="445" width="5" height="22" fill="#f5475c"/>
<rect x="436" y="437" width="1" height="30" fill="#2ebd85"/>
<rect x="434" y="451" width="5" height="16" fill="#2ebd85"/>
<rect x="442" y="451" width="1" height="17" fill="#f5475c"/>
<rect x="440" y="451" width="5" height="11" fill="#f5475c"/>
<rect x="448" y="454" width="1" height="20" fill="#f5475c"/>
<rect x="446" y="460" width="5" height="10" fill="#f5475c"/>
<rect x="454" y="460" width="1" height="19" fill="#f5475c"/>
<rect x="452" y="471" width="5" height="4" fill="#f5475c"/>
<rect x="460" y="471" width="1" height="15" fill="#f5475c"/>
<rect x="458" y="474" width="5" height="10" fill="#f5475c"/>
<rect x="466" y="476" width="1" height="15" fill="#f5475c"/>
<rect x="464" y="482" width="5" height="4" fill="#f5475c"/>
<rect x="472" y="473" width="1" height="16" fill="#2ebd85"/>
<rect x="470" y="478" width="5" height="9" fill="#2ebd85"/>
<rect x="478" y="476" width="1" height="13" fill="#f5475c"/>
<rect x="476" y="476" width="5" height="12" fill="#f5475c"/>
<rect x="484" y="485" width="1" height="21" fill="#2ebd85"/>
<rect x="482" y="487" width="5" height="1" fill="#2ebd85"/>
<rect x="490" y="485" width="1" height="9" fill="#f5475c"/>
<rect x="488" y="487" width="5" height="1" fill="#f5475c"/>
<rect x="496" y="460" width="1" height="30" fill="#2ebd85"/>
<rect x="494" y="460" width="5" height="29" fill="#2ebd85"/>
<rect x="502" y="445" width="1" height="17" fill="#2ebd85"/>
<rect x="500" y="451" width="5" height="10" fill="#2ebd85"/>
<rect x="508" y="426" width="1" height="26" fill="#2ebd85"/>
<rect x="506" y="427" width="5" height="23" fill="#2ebd85"/>
<rect x="514" y="414" width="1" height="25" fill="#f5475c"/>
<rect x="512" y="428" width="5" height="10" fill="#f5475c"/>
<rect x="520" y="434" width="1" height="7" fill="#f5475c"/>
<rect x="518" y="437" width="5" height="1" fill="#f5475c"/>
<rect x="526" y="439" width="1" height="6" fill="#f5475c"/>
<rect x="524" y="439" width="5" height="4" fill="#f5475c"/>
<rect x="532" y="436" width="1" height="12" fill="#f5475c"/>
<rect x="530" y="442" width="5" height="3" fill="#f5475c"/>
<rect x="538" y="440" width="1" height="11" fill="#f5475c"/>
<rect x="536" y="445" width="5" height="5" fill="#f5475c"/>
<rect x="544" y="445" width="1" height="9" fill="#2ebd85"/>
<rect x="542" y="448" width="5" height="1" fill="#2ebd85"/>
<rect x="550" y="446" width="1" height="10" fill="#f5475c"/>
<rect x="548" y="448" width="5" height="2" fill="#f5475c"/>
<rect x="556" y="440" width="1" height="14" fill="#f5475c"/>
<rect x="554" y="450" width="5" height="4" fill="#f5475c"/>
<rect x="562" y="446" width="1" height="18" fill="#f5475c"/>
<rect x="560" y="453" width="5" height="9" fill="#f5475c"/>
<rect x="568" y="457" width="1" height="19" fill="#f5475c"/>
<rect x="566" y="460" width="5" height="1" fill="#f5475c"/>
<rect x="574" y="455" width="1" height="18" fill="#f5475c"/>
<rect x="572" y="460" width="5" height="10" fill="#f5475c"/>
<rect x="580" y="424" width="1" height="46" fill="#2ebd85"/>
<rect x="578" y="426" width="5" height="44" fill="#2ebd85"/>
<rect x="586" y="413" width="1" height="20" fill="#2ebd85"/>
<rect x="584" y="424" width="5" height="3" fill="#2ebd85"/>
<rect x="590" y="423" width="5" height="55" fill="#f5475c"/>
<rect x="598" y="459" width="1" height="21" fill="#2ebd85"/>
<rect x="596" y="463" width="5" height="12" fill="#2ebd85"/>
<rect x="604" y="451" width="1" height="18" fill="#2ebd85"/>
<rect x="602" y="456" width="5" height="9" fill="#2ebd85"/>
<rect x="610" y="409" width="1" height="54" fill="#2ebd85"/>
<rect x="608" y="410" width="5" height="47" fill="#2ebd85"/>
<rect x="616" y="406" width="1" height="27" fill="#f5475c"/>
<rect x="614" y="407" width="5" height="12" fill="#f5475c"/>
<rect x="622" y="408" width="1" height="13" fill="#f5475c"/>
<rect x="620" y="418" width="5" height="1" fill="#f5475c"/>
<rect x="628" y="415" width="1" height="18" fill="#f5475c"/>
<rect x="626" y="418" width="5" height="12" fill="#f5475c"/>
<rect x="634" y="426" width="1" height="22" fill="#f5475c"/>
<rect x="632" y="429" width="5" height="14" fill="#f5475c"/>
<rect x="640" y="432" width="1" height="11" fill="#2ebd85"/>
<rect x="638" y="436" width="5" height="7" fill="#2ebd85"/>
<rect x="644" y="415" width="5" height="22" fill="#2ebd85"/>
<rect x="652" y="408" width="1" height="11" fill="#f5475c"/>
<rect x="650" y="415" width="5" height="3" fill="#f5475c"/>
<rect x="658" y="414" width="1" height="16" fill="#f5475c"/>
<rect x="656" y="417" width="5" height="9" fill="#f5475c"/>
<rect x="664" y="416" width="1" height="13" fill="#2ebd85"/>
<rect x="662" y="425" width="5" height="1" fill="#2ebd85"/>
<rect x="670" y="401" width="1" height="26" fill="#2ebd85"/>
<rect x="668" y="420" width="5" height="7" fill="#2ebd85"/>
<rect x="676" y="416" width="1" height="16" fill="#f5475c"/>
<rect x="674" y="420" width="5" height="9" fill="#f5475c"/>
<rect x="682" y="427" width="1" height="12" fill="#f5475c"/>
<rect x="680" y="428" width="5" height="6" fill="#f5475c"/>
<rect x="688" y="430" width="1" height="12" fill="#f5475c"/>
<rect x="686" y="433" width="5" height="1" fill="#f5475c"/>
<rect x="694" y="428" width="1" height="9" fill="#2ebd85"/>
<rect x="692" y="432" width="5" height="2" fill="#2ebd85"/>
<rect x="700" y="432" width="1" height="7" fill="#f5475c"/>
<rect x="698" y="432" width="5" height="6" fill="#f5475c"/>
<rect x="706" y="438" width="1" height="14" fill="#f5475c"/>
<rect x="704" y="439" width="5" height="13" fill="#f5475c"/>
<rect x="712" y="448" width="1" height="7" fill="#f5475c"/>
<rect x="710" y="451" width="5" height="2" fill="#f5475c"/>
<rect x="718" y="444" width="1" height="20" fill="#f5475c"/>
<rect x="716" y="453" width="5" height="9" fill="#f5475c"/>
<rect x="724" y="460" width="1" height="21" fill="#f5475c"/>
<rect x="722" y="462" width="5" height="14" fill="#f5475c"/>
<rect x="730" y="457" width="1" height="25" fill="#2ebd85"/>
<rect x="728" y="467" width="5" height="11" fill="#2ebd85"/>
<rect x="736" y="458" width="1" height="12" fill="#2ebd85"/>
<rect x="734" y="464" width="5" height="4" fill="#2ebd85"/>
<rect x="742" y="455" width="1" height="14" fill="#2ebd85"/>
<rect x="740" y="457" width="5" height="6" fill="#2ebd85"/>
<rect x="748" y="451" width="1" height="16" fill="#f5475c"/>
<rect x="746" y="458" width="5" height="9" fill="#f5475c"/>
<rect x="754" y="464" width="1" height="9" fill="#f5475c"/>
<rect x="752" y="465" width="5" height="3" fill="#f5475c"/>
<rect x="760" y="467" width="1" height="15" fill="#f5475c"/>
<rect x="758" y="467" width="5" height="13" fill="#f5475c"/>
<rect x="766" y="470" width="1" height="9" fill="#2ebd85"/>
<rect x="764" y="473" width="5" height="6" fill="#2ebd85"/>
<rect x="772" y="470" width="1" height="10" fill="#f5475c"/>
<rect x="770" y="472" width="5" height="5" fill="#f5475c"/>
<rect x="778" y="474" width="1" height="11" fill="#f5475c"/>
<rect x="776" y="477" width="5" height="2" fill="#f5475c"/>
<rect x="784" y="468" width="1" height="14" fill="#2ebd85"/>
<rect x="782" y="470" width="5" height="9" fill="#2ebd85"/>
<rect x="790" y="453" width="1" height="17" fill="#2ebd85"/>
<rect x="788" y="457" width="5" height="13" fill="#2ebd85"/>
<rect x="796" y="455" width="1" height="7" fill="#f5475c"/>
<rect x="794" y="458" width="5" height="3" fill="#f5475c"/>
<rect x="802" y="450" width="1" height="12" fill="#2ebd85"/>
<rect x="800" y="452" width="5" height="10" fill="#2ebd85"/>
<rect x="808" y="444" width="1" height="13" fill="#2ebd85"/>
<rect x="806" y="447" width="5" height="6" fill="#2ebd85"/>
<rect x="814" y="446" width="1" height="8" fill="#f5475c"/>
<rect x="812" y="447" width="5" height="4" fill="#f5475c"/>
<rect x="820" y="445" width="1" height="15" fill="#f5475c"/>
<rect x="818" y="449" width="5" height="11" fill="#f5475c"/>
<rect x="826" y="445" width="1" height="14" fill="#2ebd85"/>
<rect x="824" y="446" width="5" height="13" fill="#2ebd85"/>
<rect x="832" y="433" width="1" height="27" fill="#f5475c"/>
<rect x="830" y="447" width="5" height="12" fill="#f5475c"/>
<rect x="838" y="452" width="1" height="15" fill="#f5475c"/>
<rect x="836" y="456" width="5" height="9" fill="#f5475c"/>
<rect x="844" y="462" width="1" height="15" fill="#f5475c"/>
<rect x="842" y="465" width="5" height="7" fill="#f5475c"/>
<rect x="850" y="461" width="1" height="12" fill="#2ebd85"/>
<rect x="848" y="464" width="5" height="9" fill="#2ebd85"/>
<rect x="856" y="458" width="1" height="9" fill="#2ebd85"/>
<rect x="854" y="463" width="5" height="3" fill="#2ebd85"/>
<rect x="862" y="452" width="1" height="12" fill="#2ebd85"/>
<rect x="860" y="459" width="5" height="5" fill="#2ebd85"/>
<rect x="868" y="455" width="1" height="33" fill="#f5475c"/>
<rect x="866" y="460" width="5" height="14" fill="#f5475c"/>
<rect x="874" y="439" width="1" height="40" fill="#2ebd85"/>
<rect x="872" y="442" width="5" height="31" fill="#2ebd85"/>
<rect x="880" y="434" width="1" height="23" fill="#f5475c"/>
<rect x="878" y="441" width="5" height="7" fill="#f5475c"/>
<rect x="886" y="416" width="1" height="37" fill="#2ebd85"/>
<rect x="884" y="432" width="5" height="17" fill="#2ebd85"/>
<rect x="892" y="424" width="1" height="18" fill="#f5475c"/>
<rect x="890" y="433" width="5" height="5" fill="#f5475c"/>
<rect x="898" y="438" width="1" height="22" fill="#f5475c"/>
<rect x="896" y="438" width="5" height="20" fill="#f5475c"/>
<rect x="904" y="454" width="1" height="19" fill="#f5475c"/>
<rect x="902" y="456" width="5" height="13" fill="#f5475c"/>
<rect x="910" y="457" width="1" height="13" fill="#2ebd85"/>
<rect x="908" y="463" width="5" height="7" fill="#2ebd85"/>
<rect x="916" y="449" width="1" height="15" fill="#2ebd85"/>
<rect x="914" y="451" width="5" height="13" fill="#2ebd85"/>
<rect x="922" y="451" width="1" height="11" fill="#f5475c"/>
<rect x="920" y="451" width="5" height="9" fill="#f5475c"/>
<rect x="928" y="453" width="1" height="9" fill="#f5475c"/>
<rect x="926" y="457" width="5" height="2" fill="#f5475c"/>
<rect x="934" y="453" width="1" height="11" fill="#2ebd85"/>
<rect x="932" y="453" width="5" height="7" fill="#2ebd85"/>
<rect x="940" y="449" width="1" height="9" fill="#f5475c"/>
<rect x="938" y="453" width="5" height="1" fill="#f5475c"/>
<rect x="946" y="443" width="1" height="12" fill="#2ebd85"/>
<rect x="944" y="451" width="5" height="4" fill="#2ebd85"/>
<rect x="952" y="450" width="1" height="8" fill="#f5475c"/>
<rect x="950" y="452" width="5" height="5" fill="#f5475c"/>
<rect x="958" y="455" width="1" height="5" fill="#f5475c"/>
<rect x="956" y="456" width="5" height="4" fill="#f5475c"/>
<rect x="964" y="454" width="1" height="6" fill="#2ebd85"/>
<rect x="962" y="459" width="5" height="1" fill="#2ebd85"/>
<rect x="970" y="456" width="1" height="8" fill="#f5475c"/>
<rect x="968" y="459" width="5" height="5" fill="#f5475c"/>
<rect x="976" y="456" width="1" height="8" fill="#2ebd85"/>
<rect x="974" y="457" width="5" height="7" fill="#2ebd85"/>
<rect x="980" y="458" width="5" height="5" fill="#f5475c"/>
<rect x="988" y="458" width="1" height="5" fill="#2ebd85"/>
<rect x="986" y="459" width="5" height="4" fill="#2ebd85"/>
<rect x="994" y="457" width="1" height="4" fill="#2ebd85"/>
<rect x="992" y="458" width="5" height="3" fill="#2ebd85"/>
<rect x="1000" y="457" width="1" height="6" fill="#f5475c"/>
<rect x="998" y="458" width="5" height="5" fill="#f5475c"/>
<rect x="1006" y="461" width="1" height="16" fill="#f5475c"/>
<rect x="1004" y="462" width="5" height="15" fill="#f5475c"/>
<rect x="1012" y="468" width="1" height="10" fill="#2ebd85"/>
<rect x="1010" y="474" width="5" height="3" fill="#2ebd85"/>
<rect x="1018" y="470" width="1" height="7" fill="#f5475c"/>
<rect x="1016" y="474" width="5" height="3" fill="#f5475c"/>
<rect x="1024" y="463" width="1" height="20" fill="#2ebd85"/>
<rect x="1022" y="469" width="5" height="8" fill="#2ebd85"/>
<rect x="1030" y="466" width="1" height="7" fill="#f5475c"/>
<rect x="1028" y="468" width="5" height="1" fill="#f5475c"/>
<rect x="1036" y="468" width="1" height="9" fill="#f5475c"/>
<rect x="1034" y="469" width="5" height="7" fill="#f5475c"/>
<rect x="1042" y="473" width="1" height="10" fill="#f5475c"/>
<rect x="1040" y="475" width="5" height="8" fill="#f5475c"/>
<rect x="1046" y="478" width="5" height="5" fill="#2ebd85"/>
<line x1="56" y1="478.5" x2="1111" y2="478.5" stroke="#2ebd85" stroke-width="1" stroke-dasharray="1 2" shape-rendering="crispEdges"/>
</svg>
<div class="a" style="left:1119.0px;top:213.64px;font-size:12px;line-height:12px;color:#83868e;">0.5000</div>
<div class="a" style="left:1119.0px;top:244.64px;font-size:12px;line-height:12px;color:#83868e;">0.4900</div>
<div class="a" style="left:1119.0px;top:275.64px;font-size:12px;line-height:12px;color:#83868e;">0.4800</div>
<div class="a" style="left:1119.0px;top:306.64px;font-size:12px;line-height:12px;color:#83868e;">0.4700</div>
<div class="a" style="left:1119.0px;top:337.64px;font-size:12px;line-height:12px;color:#83868e;">0.4599</div>
<div class="a" style="left:1119.0px;top:368.64px;font-size:12px;line-height:12px;color:#83868e;">0.4499</div>
<div class="a" style="left:1119.0px;top:399.64px;font-size:12px;line-height:12px;color:#83868e;">0.4399</div>
<div class="a" style="left:1119.0px;top:430.64px;font-size:12px;line-height:12px;color:#83868e;">0.4299</div>
<div class="a" style="left:1119.0px;top:461.64px;font-size:12px;line-height:12px;color:#83868e;">0.4199</div>
<div class="a" style="left:1119.0px;top:492.64px;font-size:12px;line-height:12px;color:#83868e;">0.4099</div>
<div class="a" style="left:1119.0px;top:523.64px;font-size:12px;line-height:12px;color:#83868e;">0.3999</div>
<div class="a" style="left:1112px;top:470px;width:49px;height:16.5px;background:#2ebd85;border-radius:0 2px 2px 0"></div>
<div class="a" style="left:1119.0px;top:472.14px;font-size:12px;line-height:12px;color:#121212;">0.4165</div>
<div class="a" style="left:1119.0px;top:566.44px;font-size:12px;line-height:12px;color:#83868e;">800 K</div>
<div class="a" style="left:1119.0px;top:601.44px;font-size:12px;line-height:12px;color:#83868e;">400 K</div>
<div class="a" style="left:140.5px;width:40px;text-align:center;top:651.14px;font-size:12px;line-height:12px;font-weight:700;color:#83868e">19</div>
<div class="a" style="left:284.5px;width:40px;text-align:center;top:651.14px;font-size:12px;line-height:12px;font-weight:700;color:#83868e">20</div>
<div class="a" style="left:428.5px;width:40px;text-align:center;top:651.14px;font-size:12px;line-height:12px;font-weight:700;color:#83868e">21</div>
<div class="a" style="left:572.5px;width:40px;text-align:center;top:651.14px;font-size:12px;line-height:12px;font-weight:700;color:#83868e">22</div>
<div class="a" style="left:716.5px;width:40px;text-align:center;top:651.14px;font-size:12px;line-height:12px;font-weight:700;color:#83868e">23</div>
<div class="a" style="left:860.5px;width:40px;text-align:center;top:651.14px;font-size:12px;line-height:12px;font-weight:700;color:#83868e">24</div>
<div class="a" style="left:1004.5px;width:40px;text-align:center;top:651.14px;font-size:12px;line-height:12px;font-weight:700;color:#83868e">25</div>
<div class="a" style="left:1093px;top:650.3px;width:18px;overflow:hidden;font-size:12px;line-height:12px;color:#83868e">14:00</div>
<svg style="left:1131px;top:650px" width="16" height="14" viewBox="0 0 16 14">
<path d="M4 1h7l3.5 6-3.5 6H4L0.5 7z" fill="none" stroke="#2a2e39" stroke-width="1.3"/>
<circle cx="7.5" cy="7" r="2" fill="none" stroke="#2a2e39" stroke-width="1.3"/>
</svg>
<div class="a" style="left:65.0px;top:208.66px;font-size:16px;line-height:16px;color:#83868e;">SNX/USDT</div>
<div class="a" style="left:150.0px;top:208.66px;font-size:16px;line-height:16px;color:#83868e;">·</div>
<div class="a" style="left:157.5px;top:208.66px;font-size:16px;line-height:16px;color:#83868e;">1h</div>
<div class="a" style="left:179.0px;top:208.66px;font-size:16px;line-height:16px;color:#83868e;">·</div>
<div class="a" style="left:187.5px;top:208.66px;font-size:16px;line-height:16px;color:#83868e;">GATE</div>
<div class="a" style="left:238.0px;top:211.30px;font-size:13px;line-height:13px;color:#83868e;">O</div>
<div class="a" style="left:248.6px;top:211.30px;font-size:13px;line-height:13px;color:#2ebd85;">0.4151</div>
<div class="a" style="left:295.5px;top:211.30px;font-size:13px;line-height:13px;color:#83868e;">H</div>
<div class="a" style="left:304.9px;top:211.30px;font-size:13px;line-height:13px;color:#2ebd85;">0.4165</div>
<div class="a" style="left:351.8px;top:211.30px;font-size:13px;line-height:13px;color:#83868e;">L</div>
<div class="a" style="left:358.6px;top:211.30px;font-size:13px;line-height:13px;color:#2ebd85;">0.4149</div>
<div class="a" style="left:405.8px;top:211.30px;font-size:13px;line-height:13px;color:#83868e;">C</div>
<div class="a" style="left:415.0px;top:211.30px;font-size:13px;line-height:13px;color:#2ebd85;">0.4165</div>
<div class="a" style="left:461.5px;top:211.30px;font-size:13px;line-height:13px;color:#2ebd85;">0.0013 (+0.34%)</div>
<div class="a" style="left:65.0px;top:551.20px;font-size:13px;line-height:13px;color:#83868e;">Volume</div>
<div class="a" style="left:116.0px;top:551.20px;font-size:13px;line-height:13px;color:#2ebd85;">8.47&nbsp;K</div>
<div class="a" style="left:67.5px;top:597px;width:33.5px;height:33.5px;border-radius:50%;background:#fff;border:1px solid #e6e6e8"></div>
<svg style="left:70px;top:605px" width="28" height="20" viewBox="0 0 28 20">
<path d="M4 4.2H12.6V14.9H8.8V7.8H4Z" fill="#131722"/><circle cx="16.1" cy="5.9" r="1.9" fill="#131722"/><path d="M19.9 4.2H25.1L20.4 14.9H15.8Z" fill="#131722"/>
</svg>
<div class="a" style="left:46px;top:586px;width:8.6px;height:26.6px;border:1px solid #e6e6e8;border-radius:4.3px;background:#fff"></div>
<svg style="left:47px;top:594px" width="6" height="10"><path d="M4.6 1.8L2.2 5.2l2.4 3.4" fill="none" stroke="#a9acb4" stroke-width="0.9"/></svg>
<svg style="left:0;top:202px" width="56" height="460" viewBox="0 0 56 460" fill="none" stroke="#4f546c" stroke-width="1">
<!-- crosshair -->
<path d="M26.5 13v7.7M26.5 28.3v7.3M15 24.5h8M30.2 24.5h7.8" stroke="#2962ff" stroke-width="1.2"/>
<!-- trend line -->
<circle cx="34.5" cy="51.3" r="2"/><circle cx="17.3" cy="68.5" r="2"/><path d="M18.7 67.1L33.1 52.7"/>
<!-- fib lines -->
<path d="M15 86.5h22M15 92.5h19.3M15 98.5h22M17.4 104.5h19.6"/><circle cx="36.3" cy="92.5" r="2"/><circle cx="15.4" cy="104.5" r="2"/>
<!-- pattern -->
<circle cx="20.3" cy="123.3" r="2.1"/><circle cx="32.5" cy="124.4" r="2.1"/><circle cx="24.3" cy="130.1" r="2.1"/><circle cx="17.5" cy="140.5" r="2.1"/><circle cx="35.7" cy="137.3" r="2.1"/>
<path d="M17.84 138.43L19.96 125.37M21.36 125.11L23.24 128.29M26.02 128.90L30.78 125.60M33.01 126.44L35.19 135.26M33.92 136.18L26.08 131.22M23.15 131.86L18.65 138.74"/>
<!-- prediction -->
<circle cx="16.3" cy="160.3" r="1.9"/><path d="M18.2 160.3h17.5"/>
<path d="M21 168L33.8 162.5" stroke-dasharray="0 4.6" stroke-linecap="round" stroke-width="1.4"/>
<circle cx="16.3" cy="170.5" r="1.9"/><circle cx="34.6" cy="170.5" r="1.9"/><path d="M18.2 170.5h14.5"/>
<circle cx="16.3" cy="176.5" r="1.9"/><path d="M18.2 176.5h17.5"/>
<!-- brush -->
<path d="M14.2 212.2H24C27.2 212.2 29.5 209.8 29.5 206.9 29.5 204 27 201.6 24.2 201.6 21.8 201.6 20.6 203 20 204.8 19 207.5 16.8 209.8 14.2 212.2Z"/><path d="M30.5 196.3C28.7 197.3 28.3 199.4 29.6 200.9 30.7 202.3 32.4 202.6 33.7 201.4L39.4 196.3"/>
<!-- text -->
<path d="M19.2 235v-3.4h14.6v3.4M26.5 231.6v16.8M24.1 248.4h4.9"/>
<!-- smiley -->
<circle cx="25.9" cy="275.8" r="10.7"/><path d="M22.6 274.5h1.8M23.5 273.6v1.8M27.5 274.5h1.8M28.4 273.6v1.8" stroke-width="0.9"/><path d="M23.1 278.3C24.6 280.9 27.6 280.9 29.1 278.3"/>
<!-- ruler -->
<path d="M14 331.5L32.8 313.3 37.9 318.2 19.4 336.5Z"/><path d="M17.38 328.22l2.41 2.24M20.39 325.31l1.68 1.56M23.40 322.40l2.41 2.24M26.41 319.49l1.68 1.56M29.42 316.58l2.41 2.24"/>
<!-- zoom -->
<circle cx="24.5" cy="359.7" r="8.3"/><path d="M24.5 355.7v8M20.5 359.7h8M30.5 365.7l3 3"/>
<!-- magnet -->
<path d="M18.6 418.3V408.6A7.5 7.5 0 0 1 33.6 408.6V418.3H28.6V408.6A2.5 2.5 0 0 0 23.6 408.6V418.3Z"/><path d="M18.6 414.3h5M28.6 414.3h5"/>
<!-- pencil lock -->
<path d="M15.1 451.5L16.3 447.1 27.7 435.7A2.26 2.26 0 0 1 30.9 438.9L19.5 450.3Z"/><path d="M16.3 447.1L19.5 450.3M25.9 437.5L29.1 440.7"/>
<rect x="27.7" y="451.2" width="7.6" height="5.6" rx="1"/><path d="M29.7 451.2V447.8A2.2 2.2 0 0 1 34.1 447.8V448.8"/><rect x="31" y="453.3" width="1" height="1.6" fill="#4f546c" stroke="none"/>
</svg>
<div class="a" style="left:8px;top:502px;width:36px;height:1px;background:#e6e8ee"></div>
<div class="a" style="left:8px;top:587px;width:36px;height:1px;background:#e6e8ee"></div>
</body></html>
